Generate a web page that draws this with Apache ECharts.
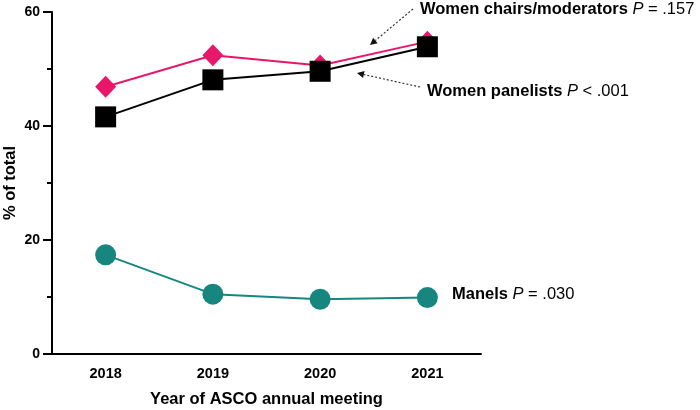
<!DOCTYPE html>
<html><head><meta charset="utf-8">
<script src="https://cdn.jsdelivr.net/npm/echarts@6/dist/echarts.min.js"></script>
<style>html,body{margin:0;padding:0;background:#fff}#c{width:700px;height:410px}</style>
</head><body><div id="c"></div>
<script>
const years = ['2018', '2019', '2020', '2021'];
const chairs = [46.9, 52.4, 50.6, 54.8];
const panelists = [41.6, 48.1, 49.6, 53.9];
const manels = [17.4, 10.5, 9.6, 9.9];
const yTicks = [0, 20, 40, 60];

const FONT = '"Liberation Sans", Arial, sans-serif';
const chart = echarts.init(document.getElementById('c'), null, {renderer: 'canvas'});
const FS = 16.5;
const rich = {
  b: {fontFamily: FONT, fontWeight: 'bold', fontSize: FS, color: '#000'},
  i: {fontFamily: FONT, fontStyle: 'italic', fontSize: FS, color: '#000'},
  r: {fontFamily: FONT, fontSize: FS, color: '#000'}
};
function arrow(x1, y1, x2, y2) {
  const a = Math.atan2(y2 - y1, x2 - x1), L = 7, W = 3.5;
  const bx = x2 - L * Math.cos(a), by = y2 - L * Math.sin(a);
  return [
    {type: 'line', shape: {x1: x1, y1: y1, x2: bx, y2: by}, style: {stroke: '#333', lineWidth: 1.2, lineDash: [2, 2]}},
    {type: 'polygon', shape: {points: [[x2, y2], [bx - W * Math.sin(a), by + W * Math.cos(a)], [bx + W * Math.sin(a), by - W * Math.cos(a)]]}, style: {fill: '#111'}}
  ];
}
chart.setOption({
  animation: false,
  grid: {left: 52, right: 219, top: 12, bottom: 56, containLabel: false, outerBoundsMode: 'none'},
  xAxis: {
    type: 'category', data: years, boundaryGap: true,
    axisLine: {lineStyle: {color: '#000', width: 2}},
    axisTick: {alignWithLabel: true, length: 7, lineStyle: {color: '#000', width: 2}},
    axisLabel: {color: '#000', fontFamily: FONT, fontWeight: 'bold', fontSize: 14.5, margin: 12},
    name: 'Year of ASCO annual meeting', nameLocation: 'middle', nameGap: 37, nameMoveOverlap: false,
    nameTextStyle: {color: '#000', fontFamily: FONT, fontWeight: 'bold', fontSize: 16.5}
  },
  yAxis: {
    type: 'value', min: yTicks[0], max: yTicks[yTicks.length - 1], interval: 20,
    axisLine: {show: true, lineStyle: {color: '#000', width: 2}},
    axisTick: {show: true, length: 9, lineStyle: {color: '#000', width: 2}},
    minorTick: {show: true, splitNumber: 2, length: 5, lineStyle: {color: '#000', width: 2}},
    splitLine: {show: false},
    axisLabel: {color: '#000', fontFamily: FONT, fontWeight: 'bold', fontSize: 14, margin: 12},
    name: '% of total', nameLocation: 'middle', nameGap: 33, nameRotate: 90, nameMoveOverlap: false,
    nameTextStyle: {color: '#000', fontFamily: FONT, fontWeight: 'bold', fontSize: 16.5}
  },
  series: [
    {type: 'line', name: 'chairs', data: chairs, symbol: 'diamond', symbolSize: [21, 22],
     itemStyle: {color: '#E8176A'}, lineStyle: {color: '#E8176A', width: 2}, z: 2},
    {type: 'line', name: 'panelists', data: panelists, symbol: 'rect', symbolSize: 21,
     itemStyle: {color: '#000'}, lineStyle: {color: '#000', width: 2}, z: 3},
    {type: 'line', name: 'manels', data: manels, symbol: 'circle', symbolSize: 21,
     itemStyle: {color: '#17867F'}, lineStyle: {color: '#17867F', width: 2}, z: 2}
  ],
  graphic: [
    {type: 'text', left: 420, top: 1, style: {text: '{b|Women chairs/moderators }{i|P}{r| = .157}', rich: rich}},
    {type: 'text', left: 427, top: 83, style: {text: '{b|Women panelists }{i|P}{r| < .001}', rich: rich}},
    {type: 'text', left: 452, top: 286, style: {text: '{b|Manels }{i|P}{r| = .030}', rich: rich}}
  ].concat(arrow(413, 9, 370, 45)).concat(arrow(420, 87, 357, 73))
});
</script></body></html>
